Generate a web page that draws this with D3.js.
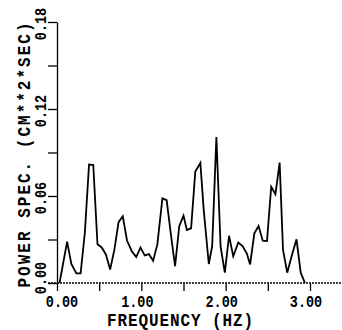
<!DOCTYPE html>
<html>
<head>
<meta charset="utf-8">
<script src="https://cdn.jsdelivr.net/npm/d3@7"></script>
<style>
    body { margin: 0; background: #fff; }
    text { font-family: "Liberation Mono", "Courier New", monospace; font-weight: bold; fill: #000; }
</style>
</head>
<body>
<svg id="chart" width="342" height="330"></svg>
<script>
// values
var freq = [0.03, 0.12, 0.17, 0.23, 0.28, 0.33, 0.38, 0.43, 0.48, 0.53,
            0.58, 0.63, 0.68, 0.73, 0.78, 0.83, 0.89, 0.94, 0.99, 1.04,
            1.09, 1.14, 1.19, 1.25, 1.30, 1.35, 1.40, 1.45, 1.50, 1.54,
            1.59, 1.64, 1.70, 1.74, 1.80, 1.84, 1.89, 1.94, 1.99, 2.04,
            2.09, 2.15, 2.20, 2.25, 2.29, 2.34, 2.39, 2.44, 2.49, 2.54,
            2.59, 2.64, 2.68, 2.73, 2.78, 2.84, 2.89, 2.94];
var power = [0.000, 0.0285, 0.0131, 0.0066, 0.0066, 0.0345, 0.0817, 0.0814, 0.0267, 0.0245,
             0.0197, 0.0093, 0.0228, 0.0420, 0.0460, 0.0293, 0.0216, 0.0179, 0.0245, 0.0190,
             0.0199, 0.0154, 0.0266, 0.0584, 0.0572, 0.0338, 0.0117, 0.0393, 0.0464, 0.0366,
             0.0377, 0.0768, 0.0828, 0.0503, 0.0131, 0.0255, 0.1007, 0.0250, 0.0071, 0.0326,
             0.0184, 0.0279, 0.0255, 0.0205, 0.0128, 0.0343, 0.0393, 0.0292, 0.0290, 0.0664,
             0.0612, 0.0830, 0.0228, 0.0071, 0.0181, 0.0301, 0.0071, 0.000];

var xTicks = [0, 0.5, 1, 1.5, 2, 2.5, 3];
var xLabels = [0, 1, 2, 3];
var yTicks = [0, 0.03, 0.06, 0.09, 0.12, 0.15, 0.18];
var yLabels = [0, 0.06, 0.12, 0.18];

var xTitle = "FREQUENCY (HZ)";
var yTitle = "POWER SPEC. (CM**2*SEC)";

var svg = d3.select("#chart");
var fmt = d3.format(".2f");

var x = d3.scaleLinear().domain([0, 3]).range([57, 310]);
var y = d3.scaleLinear().domain([0, 0.18]).range([283, 22]);

// x axis : ticks only, baseline drawn by hand (runs to the right edge)
svg.append("g")
    .attr("transform", "translate(0," + y(0) + ")")
    .call(d3.axisBottom(x).tickValues(xTicks).tickSize(8).tickSizeOuter(0).tickFormat(""))
    .call(g => g.select(".domain").remove())
    .selectAll("line").attr("stroke", "#000").attr("stroke-width", 1.3);

svg.append("line")
    .attr("x1", 48).attr("x2", 342)
    .attr("y1", y(0)).attr("y2", y(0))
    .attr("stroke", "#000").attr("stroke-width", 1.3)
    .attr("stroke-dasharray", "2,1");

// y axis
svg.append("g")
    .attr("transform", "translate(" + x(0) + ",0)")
    .call(d3.axisLeft(y).tickValues(yTicks).tickSize(9).tickSizeOuter(0).tickFormat(""))
    .call(g => g.select(".domain").attr("stroke-width", 1.3))
    .selectAll("line").attr("stroke", "#000").attr("stroke-width", 1.3);

// tick labels
svg.selectAll(".xlab")
    .data(xLabels)
    .enter().append("text")
    .attr("class", "xlab")
    .attr("text-anchor", "middle")
    .attr("font-size", 13.5)
    .attr("transform", (d, i) => "translate(" + (x(d) + (i === 0 ? 5 : -4)) + ",307) scale(1,1.2)")
    .text(d => fmt(d));

svg.selectAll(".ylab")
    .data(yLabels)
    .enter().append("text")
    .attr("class", "ylab")
    .attr("text-anchor", "middle")
    .attr("font-size", 13.5)
    .attr("transform", (d, i) => "translate(46," + (y(d) + (i === 0 ? -5 : 2)) + ") rotate(-90) scale(1,1.2)")
    .text(d => fmt(d));

// titles
svg.append("text")
    .attr("text-anchor", "middle")
    .attr("font-size", 16)
    .attr("textLength", 146)
    .attr("lengthAdjust", "spacing")
    .attr("transform", "translate(180,326) scale(1,1.15)")
    .text(xTitle);

svg.append("text")
    .attr("text-anchor", "middle")
    .attr("font-size", 16)
    .attr("textLength", 265)
    .attr("lengthAdjust", "spacing")
    .attr("transform", "translate(30,155) rotate(-90) scale(1,1.15)")
    .text(yTitle);

// spectrum line
var line = d3.line()
    .x((d, i) => x(freq[i]))
    .y(d => y(d));

svg.append("path")
    .datum(power)
    .attr("d", line)
    .attr("fill", "none")
    .attr("stroke", "#000")
    .attr("stroke-width", 1.8);
</script>
</body>
</html>
